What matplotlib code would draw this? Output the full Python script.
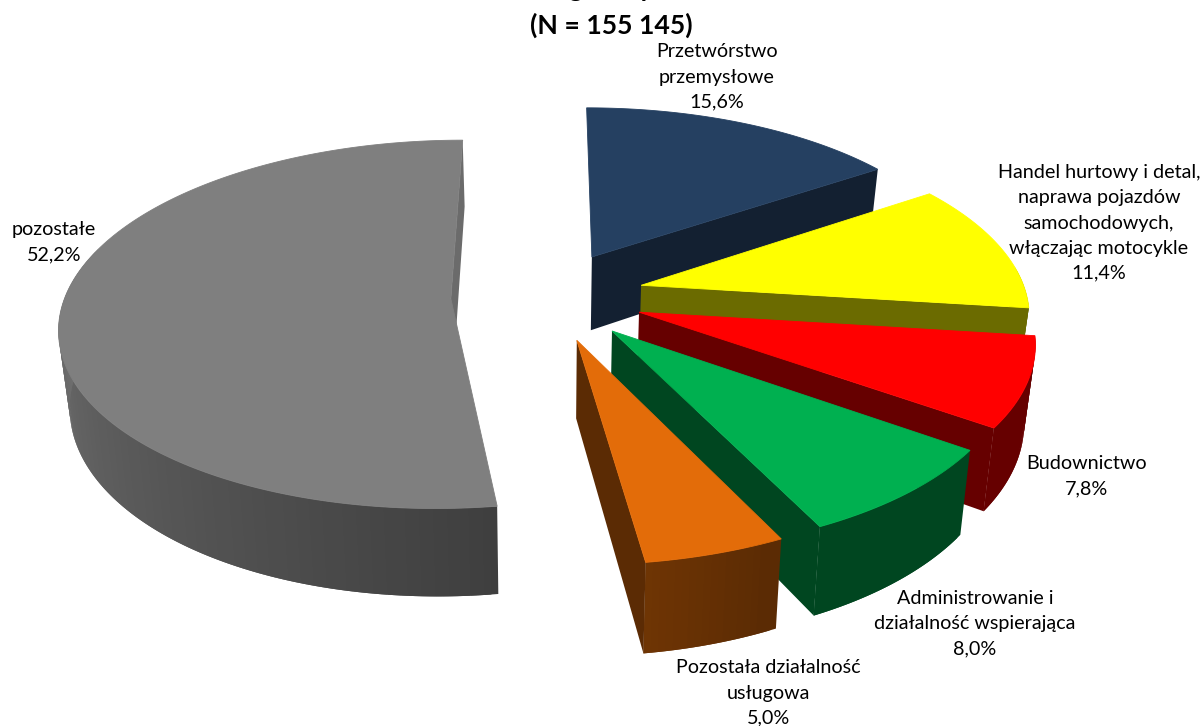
import numpy as np
import matplotlib
matplotlib.use("Agg")
import matplotlib.pyplot as plt
from matplotlib.colors import to_rgb

# Dane
categories = ["Przetwórstwo\nprzemysłowe", "Handel hurtowy i detal,\nnaprawa pojazdów\nsamochodowych,\nwłączając motocykle",
              "Budownictwo", "Administrowanie i\ndziałalność wspierająca", "Pozostała działalność\nusługowa", "pozostałe"]
values = [15.6, 11.4, 7.8, 8.0, 5.0, 52.2]
colors = ["#254061", "#FFFF00", "#FF0000", "#00B050", "#E36C09", "#7F7F7F"]
title_text = "(N = 155 145)"

# Ściemnienie ściany wewnętrznej dla każdego wycinka
inner_shade = [0.5, 0.42, 0.4, 0.4, 0.4, 0.84]

# Pozycje etykiet (środek tekstu, piksele)
label_x = [717, 1099, 1087, 975, 768, 54]
label_y = [77, 223, 476, 624, 693, 242]

# Geometria pseudo-3D (piksele)
cx, cy = 547.66, 295.61
persp = 1296.2
rx, ry = 385.49, 179.76
explode = 0.2511
depth = 75.5
z_shrink = 0.977


def project(u, w):
    s = 1 / (1 - w / persp)
    return cx + u * s, cy + w * s


def project_bottom(u, w):
    s = 1 / (1 - w / persp)
    return cx + u * s * z_shrink, cy + w * s + depth * s


def wall_shade(deg):
    return np.interp(deg, [0, 60, 85, 156, 174, 270, 360], [0.5, 0.5, 0.4, 0.4, 0.5, 0.87, 0.87])


def darker(color, k):
    return tuple(c * k for c in to_rgb(color))


plt.rcParams["font.family"] = ["Lato", "DejaVu Sans"]
fig = plt.figure(figsize=(12.02, 7.26), dpi=100)
ax = fig.add_axes([0, 0, 1, 1])
ax.set_xlim(0, 1202)
ax.set_ylim(726, 0)
ax.axis("off")

starts = np.cumsum([0] + values[:-1]) * 3.6
ends = np.cumsum(values) * 3.6

# najpierw duży szary wycinek, potem kolejno od tyłu do przodu
for i in [5, 0, 1, 2, 3, 4]:
    a, b = np.radians(starts[i]), np.radians(ends[i])
    mid = (a + b) / 2
    u0 = explode * rx * np.sin(mid)
    w0 = -explode * ry * np.cos(mid)
    th = np.linspace(a, b, max(int(values[i] * 4), 20))
    u = u0 + rx * np.sin(th)
    w = w0 - ry * np.cos(th)
    tx, ty = project(u, w)
    bx, by = project_bottom(u, w)
    ax0, ay0 = project(u0, w0)
    bx0, by0 = project_bottom(u0, w0)

    # ściana zewnętrzna, tylko część widoczna (każdy pas zachodzi na następny)
    deg = np.degrees(th)
    for j in range(len(th) - 1):
        if deg[j + 1] < 85 or deg[j] > 285:
            continue
        k = min(j + 2, len(th) - 1)
        shade = darker(colors[i], wall_shade((deg[j] + deg[j + 1]) / 2))
        ax.fill([tx[j], tx[j + 1], tx[k], bx[k], bx[j + 1], bx[j]],
                [ty[j], ty[j + 1], ty[k], by[k], by[j + 1], by[j]],
                facecolor=shade, edgecolor="none", zorder=i + 1)

    # ściana wewnętrzna
    ax.fill([ax0, tx[-1], bx[-1], bx0], [ay0, ty[-1], by[-1], by0],
            facecolor=darker(colors[i], inner_shade[i]), edgecolor="none", zorder=i + 1)

    # wierzch
    ax.fill(np.r_[ax0, tx], np.r_[ay0, ty], facecolor=colors[i], edgecolor=colors[i], lw=0.6, zorder=i + 1)

# Etykiety
for name, val, x, y in zip(categories, values, label_x, label_y):
    txt = name + "\n" + ("%.1f%%" % val).replace(".", ",")
    ax.text(x, y, txt, ha="center", va="center", fontsize=14.2, color="#000000",
            linespacing=1.58, zorder=20, clip_on=False)

# Tytuł: pierwsza linia jest ucięta przez górną krawędź
ax.text(611, 34, title_text, ha="center", va="baseline", fontsize=19.2, fontweight="bold", zorder=20)
ax.text(575, -3, "g", ha="center", va="baseline", fontsize=19.2, fontweight="bold", zorder=20, clip_on=True)
ax.text(646, -3, "y", ha="center", va="baseline", fontsize=19.2, fontweight="bold", zorder=20, clip_on=True)

fig.savefig("out.png", dpi=100)
